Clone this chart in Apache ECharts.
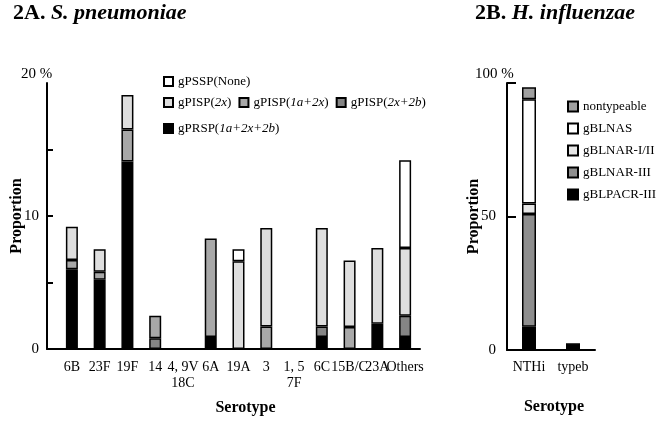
<!DOCTYPE html>
<html>
<head>
<meta charset="utf-8">
<script src="https://cdn.jsdelivr.net/npm/echarts@6/dist/echarts.min.js"></script>
<style>
html,body{margin:0;padding:0;background:#fff;}
#c{width:664px;height:421px;}
</style>
</head>
<body>
<div id="c"></div>
<script>
// ---- Data: 2A S. pneumoniae ----
var categoriesA = ['6B', '23F', '19F', '14', '4, 9V\n18C', '6A', '19A', '3', '1, 5\n7F', '6C', '15B/C', '23A', 'Others'];
var gPRSP      = [6.0, 5.2, 14.1, null, null, 0.9, null, null, null, 0.9, null, 1.9, 0.9];
var gPISP_2x2b = [null, null, null, 0.8, null, null, null, null, null, 0.8, null, null, 1.6];
var gPISP_1a2x = [0.7, 0.6, 2.4, 1.7, null, 7.4, null, 1.7, null, null, 1.65, null, null];
var gPISP_2x   = [2.5, 1.7, 2.6, null, null, null, 6.6, 7.4, null, 7.4, 5.0, 5.7, 5.1];
var gPSSP      = [null, null, null, null, null, null, 0.9, null, null, null, null, null, 6.6];
var ticksA = [0, 10];
// ---- Data: 2B H. influenzae ----
var categoriesB = ['NTHi', 'typeb'];
var gBLPACR_III = [8.7, 2.5];
var gBLNAR_III  = [42.2, null];
var gBLNAR_I_II = [4.0, null];
var gBLNAS      = [39.0, null];
var nontypeable = [4.5, null];
var ticksB = [0, 50];

var FONT = 'Liberation Serif';
var chart = echarts.init(document.getElementById('c'), null, {renderer: 'canvas'});

var col = {
  PRSP: '#000000', P2x2b: '#858585', P1a2x: '#a8a8a8', P2x: '#dedede', PSSP: '#ffffff',
  PACR: '#000000', NAR3: '#8e8e8e', NAR12: '#e6e6e6', NAS: '#ffffff', NT: '#a0a0a0'
};

function barSeries(name, data, color, xi, yi, w) {
  return {
    name: name, type: 'bar', stack: 's' + xi, data: data,
    xAxisIndex: xi, yAxisIndex: yi, barWidth: w,
    itemStyle: {color: color, borderColor: '#000', borderWidth: 1.5},
    emphasis: {disabled: true}, animation: false
  };
}

var richI = {i: {fontStyle: 'italic', fontFamily: FONT, fontSize: 13, color: '#000'}};
function legFmt(name) {
  var m = name.match(/^(.*)\((.*)\)$/);
  if (m && m[2] !== 'None') return m[1] + '({i|' + m[2] + '})';
  return name;
}
var legendBase = {
  icon: 'rect', itemWidth: 9, itemHeight: 9, itemGap: 7, selectedMode: false, padding: 0,
  textStyle: {fontFamily: FONT, fontSize: 13, color: '#000', rich: richI},
  formatter: legFmt
};
var titleRich = {
  b: {fontFamily: FONT, fontWeight: 'bold', fontSize: 22, color: '#000'},
  bi: {fontFamily: FONT, fontWeight: 'bold', fontStyle: 'italic', fontSize: 22, color: '#000'}
};
var nameStyle = {fontFamily: FONT, fontSize: 16, fontWeight: 'bold', color: '#000'};

var option = {
  backgroundColor: '#fff',
  animation: false,
  title: [
    {text: '{b|2A. }{bi|S. pneumoniae}', left: 13, top: 2, padding: 0, textStyle: {rich: titleRich}},
    {text: '{b|2B. }{bi|H. influenzae}', left: 475, top: 2, padding: 0, textStyle: {rich: titleRich}},
    {text: '20 %', left: 21, top: 67, padding: 0, textStyle: {fontFamily: FONT, fontSize: 15, fontWeight: 'normal', color: '#000'}},
    {text: '100 %', left: 475, top: 67, padding: 0, textStyle: {fontFamily: FONT, fontSize: 15, fontWeight: 'normal', color: '#000'}}
  ],
  legend: [
    Object.assign({}, legendBase, {data: ['gPSSP(None)'], left: 163, top: 75}),
    Object.assign({}, legendBase, {data: ['gPISP(2x)', 'gPISP(1a+2x)', 'gPISP(2x+2b)'], left: 163, top: 96}),
    Object.assign({}, legendBase, {data: ['gPRSP(1a+2x+2b)'], left: 163, top: 122}),
    {orient: 'vertical', icon: 'rect', itemWidth: 10, itemHeight: 10, itemGap: 9, selectedMode: false,
     left: 567, top: 100, padding: 0,
     data: ['nontypeable', 'gBLNAS', 'gBLNAR-I/II', 'gBLNAR-III', 'gBLPACR-III'],
     textStyle: {fontFamily: FONT, fontSize: 13, color: '#000'}}
  ],
  grid: [
    {left: 47, top: 83, width: 373, height: 266, outerBoundsMode: 'none', containLabel: false},
    {left: 58, top: 83, width: 361, height: 266, outerBoundsMode: 'none', containLabel: false},
    {left: 507, top: 83, width: 88, height: 267, outerBoundsMode: 'none', containLabel: false}
  ],
  xAxis: [
    {gridIndex: 0, type: 'value', min: 0, max: 1,
     axisLine: {show: true, onZero: false, lineStyle: {color: '#000', width: 2}},
     axisTick: {show: false}, axisLabel: {show: false}, splitLine: {show: false}},
    {gridIndex: 1, type: 'category', data: categoriesA,
     axisLine: {show: false}, axisTick: {show: false},
     axisLabel: {interval: 0, margin: 10, fontFamily: FONT, fontSize: 14, lineHeight: 16, color: '#000'},
     name: 'Serotype', nameLocation: 'middle', nameGap: 51, nameMoveOverlap: false,
     nameTextStyle: Object.assign({padding: [0, 0, 0, 14]}, nameStyle)},
    {gridIndex: 2, type: 'category', data: categoriesB,
     axisLine: {show: true, lineStyle: {color: '#000', width: 2}}, axisTick: {show: false},
     axisLabel: {interval: 0, margin: 10, fontFamily: FONT, fontSize: 14, color: '#000'},
     name: 'Serotype', nameLocation: 'middle', nameGap: 49, nameMoveOverlap: false,
     nameTextStyle: Object.assign({padding: [0, 0, 0, 6]}, nameStyle)}
  ],
  yAxis: [
    {gridIndex: 0, type: 'value', min: 0, max: 20, interval: 5,
     axisLine: {show: true, lineStyle: {color: '#000', width: 2}},
     axisTick: {show: true, inside: true, length: 6, customValues: [5, 10, 15], lineStyle: {color: '#000', width: 2}},
     axisLabel: {customValues: ticksA, margin: 8, fontFamily: FONT, fontSize: 15, color: '#000'},
     splitLine: {show: false},
     name: 'Proportion', nameLocation: 'middle', nameGap: 22, nameMoveOverlap: false,
     nameTextStyle: nameStyle},
    {gridIndex: 1, type: 'value', min: 0, max: 20, show: false},
    {gridIndex: 2, type: 'value', min: 0, max: 100, interval: 50,
     axisLine: {show: true, lineStyle: {color: '#000', width: 2}},
     axisTick: {show: true, inside: true, length: 9, customValues: [50, 100], lineStyle: {color: '#000', width: 2}},
     axisLabel: {customValues: ticksB, margin: 11, fontFamily: FONT, fontSize: 15, color: '#000'},
     splitLine: {show: false},
     name: 'Proportion', nameLocation: 'middle', nameGap: 25, nameMoveOverlap: false,
     nameTextStyle: nameStyle}
  ],
  series: [
    barSeries('gPRSP(1a+2x+2b)', gPRSP, col.PRSP, 1, 1, 12),
    barSeries('gPISP(2x+2b)', gPISP_2x2b, col.P2x2b, 1, 1, 12),
    barSeries('gPISP(1a+2x)', gPISP_1a2x, col.P1a2x, 1, 1, 12),
    barSeries('gPISP(2x)', gPISP_2x, col.P2x, 1, 1, 12),
    barSeries('gPSSP(None)', gPSSP, col.PSSP, 1, 1, 12),
    barSeries('gBLPACR-III', gBLPACR_III, col.PACR, 2, 2, 14),
    barSeries('gBLNAR-III', gBLNAR_III, col.NAR3, 2, 2, 14),
    barSeries('gBLNAR-I/II', gBLNAR_I_II, col.NAR12, 2, 2, 14),
    barSeries('gBLNAS', gBLNAS, col.NAS, 2, 2, 14),
    barSeries('nontypeable', nontypeable, col.NT, 2, 2, 14)
  ]
};
chart.setOption(option);
</script>
</body>
</html>
